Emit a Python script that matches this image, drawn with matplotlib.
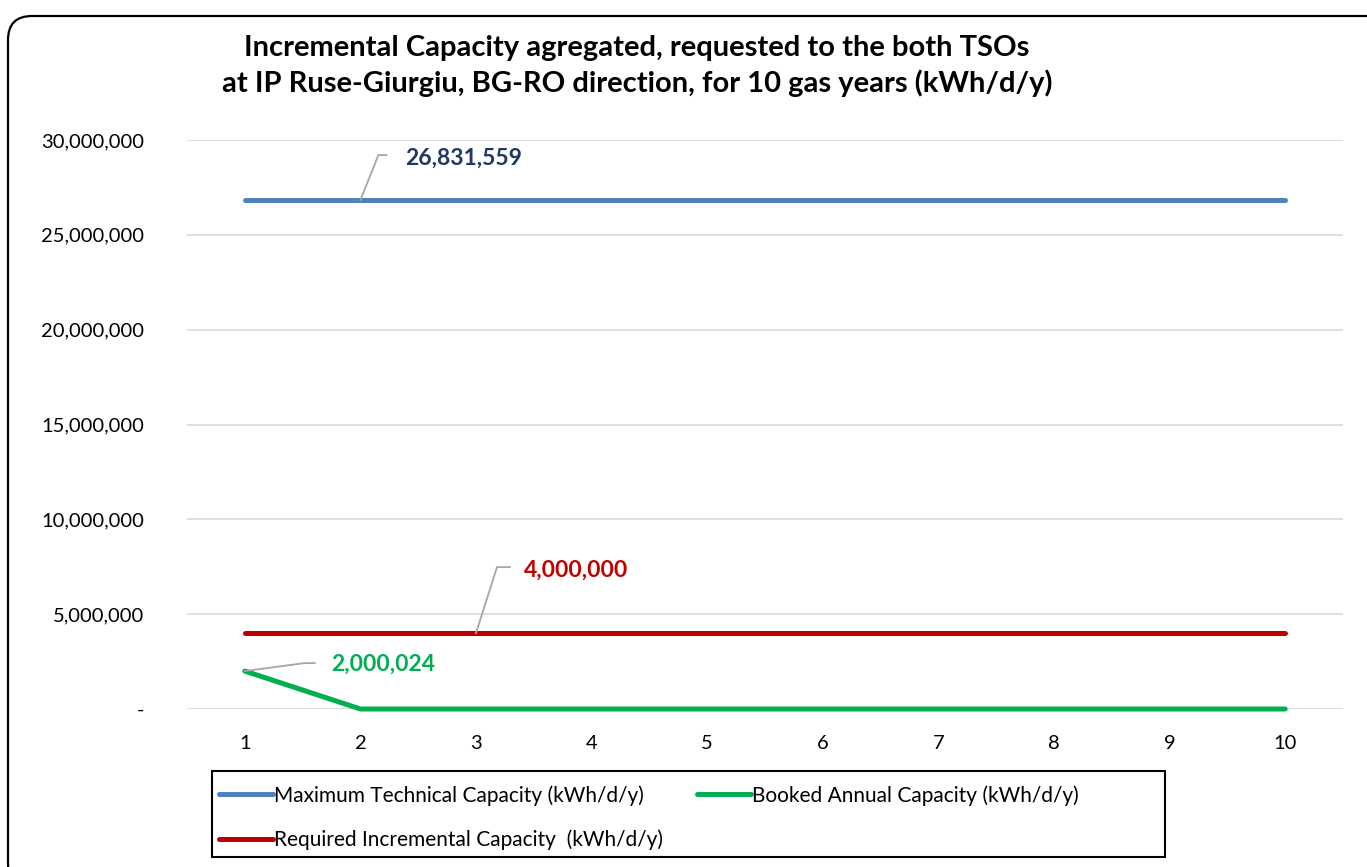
import matplotlib.pyplot as plt
from matplotlib.patches import FancyBboxPatch, Rectangle
from matplotlib.lines import Line2D
from matplotlib.ticker import FuncFormatter

plt.rcParams['font.family'] = ['Lato', 'DejaVu Sans']

# data
years = [1, 2, 3, 4, 5, 6, 7, 8, 9, 10]
max_technical = [26831559] * 10
booked_annual = [2000024, 0, 0, 0, 0, 0, 0, 0, 0, 0]
required_incremental = [4000000] * 10

labels = ['Maximum Technical Capacity (kWh/d/y)',
          'Booked Annual Capacity (kWh/d/y)',
          'Required Incremental Capacity  (kWh/d/y)']
colors = ['#4F81BD', '#00B050', '#C00000']

title = ('Incremental Capacity agregated, requested to the both TSOs\n'
         'at IP Ruse-Giurgiu, BG-RO direction, for 10 gas years (kWh/d/y)')

W, H = 1367, 867
fig = plt.figure(figsize=(W / 100, H / 100), dpi=100)
ax = fig.add_axes([187 / W, 1 - 709 / H, 1156 / W, 569 / H])

l1, = ax.plot(years, max_technical, color=colors[0], lw=3.6, solid_capstyle='round', clip_on=False)
l2, = ax.plot(years, booked_annual, color=colors[1], lw=3.6, solid_capstyle='round', clip_on=False)
l3, = ax.plot(years, required_incremental, color=colors[2], lw=3.6, solid_capstyle='round', clip_on=False)

ax.set_xlim(0.5, 10.5)
ax.set_ylim(0, 30000000)
ax.set_xticks(years)
ax.set_yticks(range(0, 30000001, 5000000))
ax.yaxis.set_major_formatter(FuncFormatter(lambda v, p: '-' if v == 0 else f'{v:,.0f}'))
ax.grid(axis='y', color='#D9D9D9', lw=1.2)
ax.set_axisbelow(True)
for s in ax.spines.values():
    s.set_visible(False)
ax.tick_params(length=0, labelsize=14.5)
ax.tick_params(axis='y', pad=31)
ax.tick_params(axis='x', pad=19)

fig.text(637 / W, 1 - 66 / H, title, ha='center', va='center',
         fontsize=21, fontweight='bold', linespacing=1.4)

# data labels with leader lines (pixel offsets)
fig.canvas.draw()
notes = [
    (years[1], max_technical[1], '26,831,559', '#1F3864', [(18, 45), (26, 45)], (45, 42)),
    (years[2], required_incremental[2], '4,000,000', '#C00000', [(21, 66), (34, 66)], (48, 63)),
    (years[0], booked_annual[0], '2,000,024', '#00B050', [(60, 8), (70, 8)], (86, 7)),
]
for x, y, txt, c, elbow, toff in notes:
    px, py = ax.transData.transform((x, y))
    xs = [px] + [px + dx for dx, dy in elbow]
    ys = [py] + [py + dy for dx, dy in elbow]
    fig.add_artist(Line2D(xs, ys, color='#A6A6A6', lw=1.3, transform=None))
    fig.text((px + toff[0]) / W, (py + toff[1]) / H, txt, color=c,
             fontsize=16.5, fontweight='bold', ha='left', va='center')

# legend: row-major order like the original
fig.legend([l1, l3, l2], [labels[0], labels[2], labels[1]], loc='upper left',
           bbox_to_anchor=(219 / W, 1 - 785 / H), ncol=2, fontsize=15,
           frameon=False, handlelength=2.6, handletextpad=0.05,
           borderaxespad=0, borderpad=0, labelspacing=1.15, columnspacing=1.6)
fig.add_artist(Rectangle((212, H - 857), 953, 86, fc='none', ec='black',
                         lw=1.5, transform=None))

fig.add_artist(FancyBboxPatch((8, -20), 1400, 879 - 8,
                              boxstyle='round,pad=0,rounding_size=24',
                              fc='none', ec='black', lw=1.6, transform=None))

fig.savefig('out.png', dpi=100)
